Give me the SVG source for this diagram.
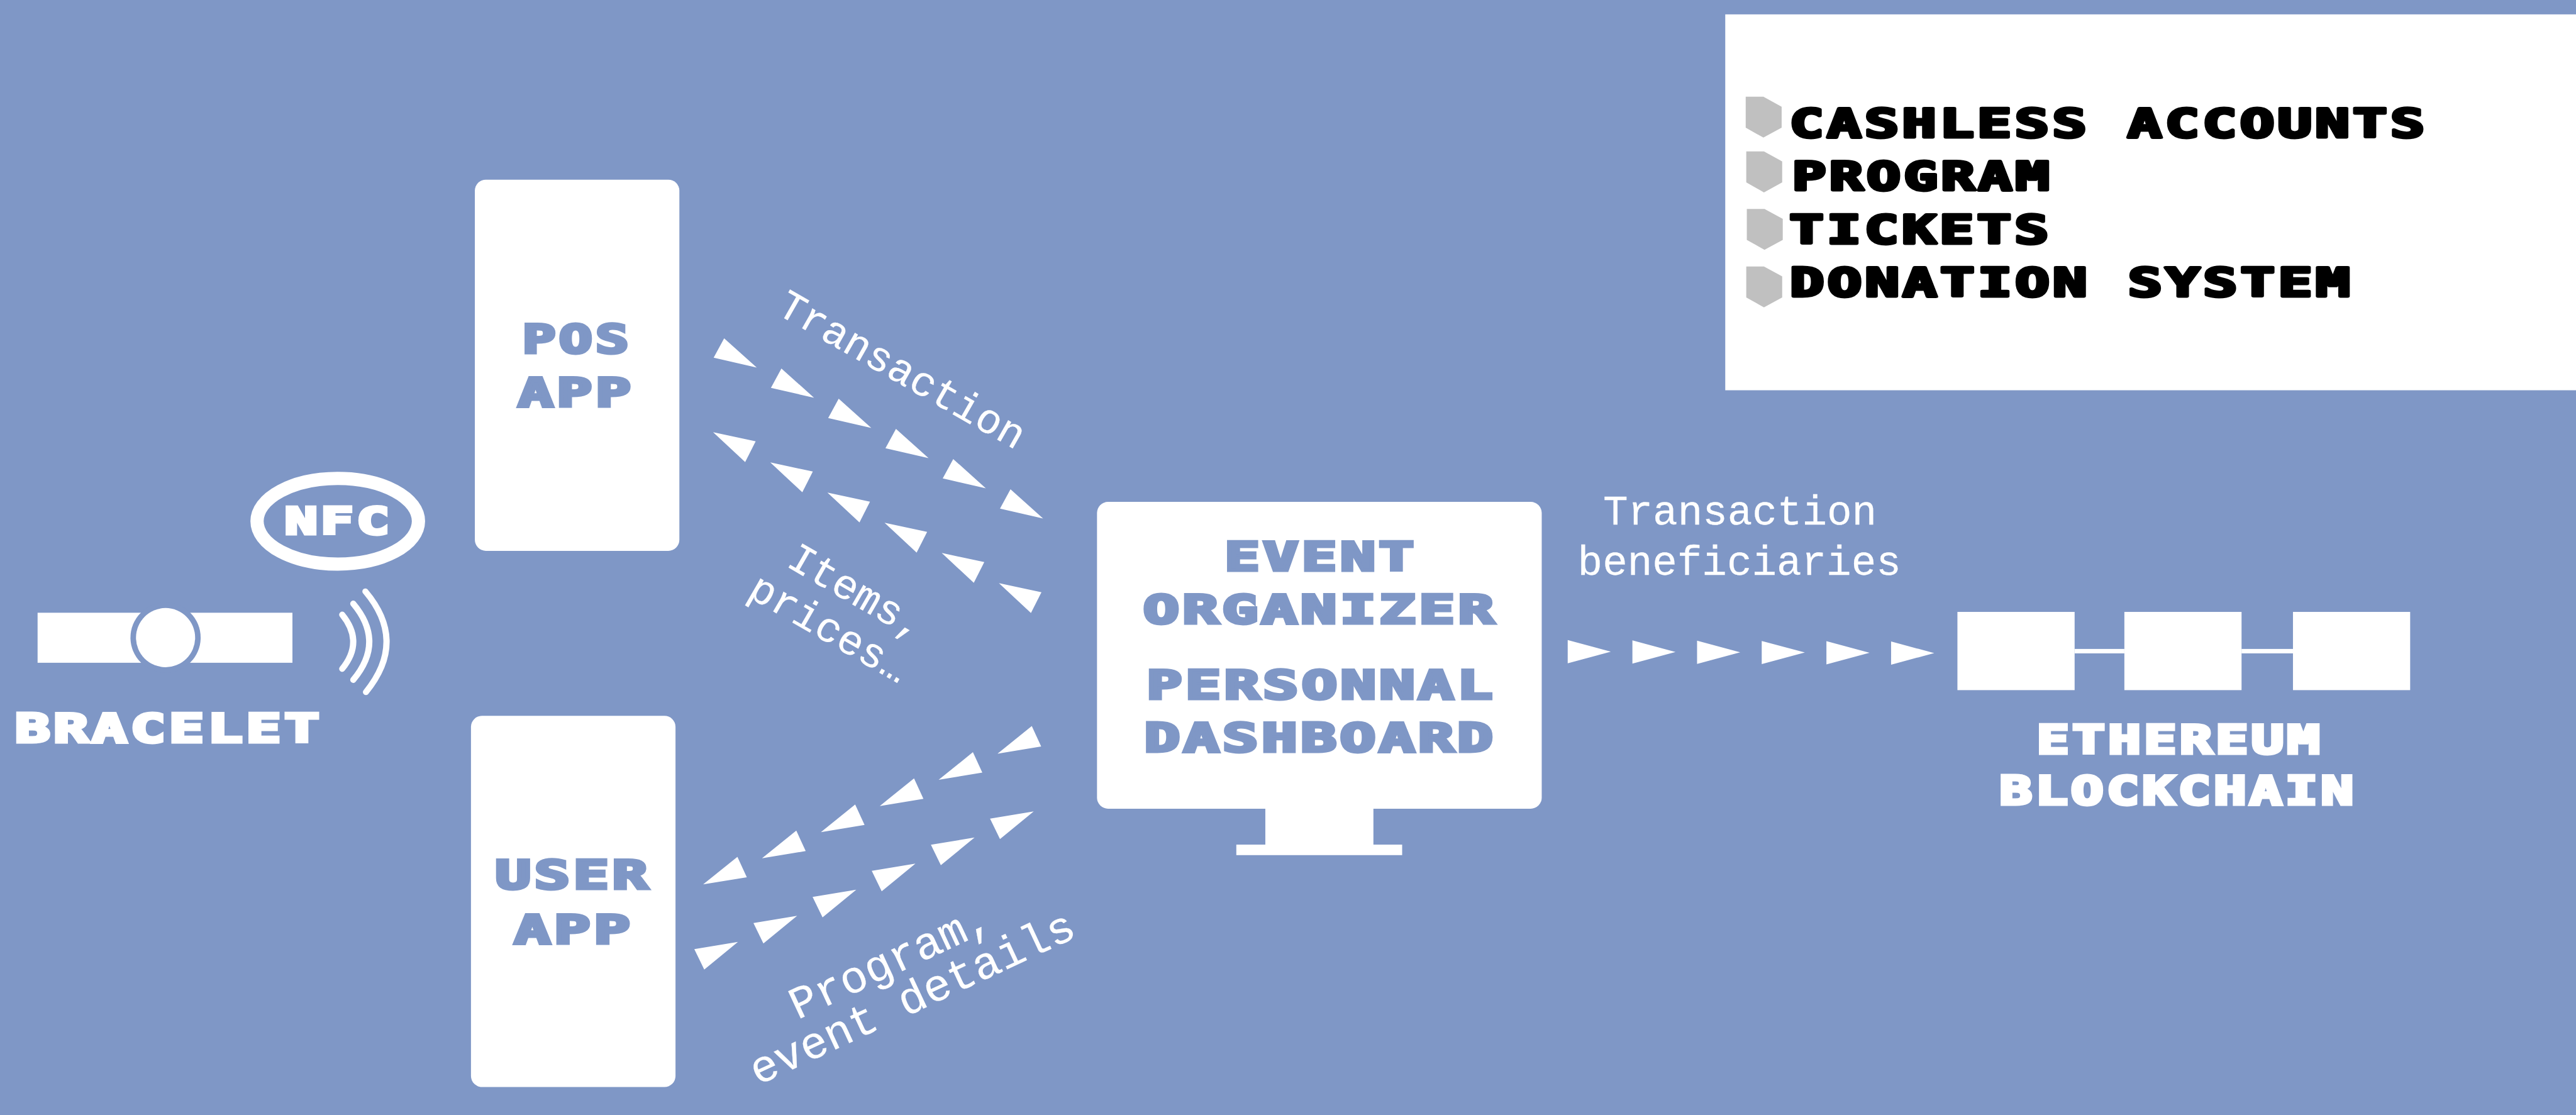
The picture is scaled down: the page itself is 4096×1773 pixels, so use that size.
<svg xmlns="http://www.w3.org/2000/svg" width="4096" height="1773" viewBox="0 0 4096 1773">
<style>
.w{fill:#fff}
.b{fill:#7f97c6}
.h{font-family:"DejaVu Sans Mono","Liberation Mono",monospace;font-weight:700;font-size:71px;letter-spacing:4px;stroke-width:5.500px;stroke-linejoin:miter}
.hb{fill:#7f97c6;stroke:#7f97c6}
.hw{fill:#fff;stroke:#fff}
.m{font-family:"DejaVu Sans Mono","Liberation Mono",monospace;font-weight:700;font-size:71px;letter-spacing:4px;fill:#000;stroke:#000;stroke-width:5.500px;stroke-linejoin:round}
.l{font-family:"Liberation Mono",monospace;font-size:76px;fill:#fff;stroke:#fff;stroke-width:.3px}
.l2{font-size:82px}
.l3{font-size:75px}
.bul{fill:#c0c0c0}
.wave{fill:none;stroke:#fff;stroke-width:11px;stroke-linecap:round}
</style>
<defs>
<polygon id="tr-a" points="0,0 -19,35 59,53" class="w"/>
<polygon id="tr-b" points="0,0 77,16.500 58,54" class="w"/>
<polygon id="tr-c" points="0,0 17,37 -62,50" class="w"/>
<polygon id="tr-d" points="0,0 79,-13 18,37" class="w"/>
<polygon id="tr-e" points="0,0 78,21 0,42" class="w"/>
<polygon id="bullet" points="0,0 32,0 65,18 65,56 32,74 0,56" class="bul"/>
</defs>
<rect width="4096" height="1773" class="b"/>
<g transform="scale(0.87897)">
<g id="connectors">
<g id="pos-to-dashboard">
<use href="#tr-a" x="1310" y="612"/><use href="#tr-a" x="1413.600" y="666.600"/><use href="#tr-a" x="1517.200" y="721.200"/><use href="#tr-a" x="1620.800" y="775.800"/><use href="#tr-a" x="1724.400" y="830.400"/><use href="#tr-a" x="1828" y="885"/>
</g>
<g id="dashboard-to-pos">
<use href="#tr-b" x="1290" y="782"/><use href="#tr-b" x="1393.400" y="836.600"/><use href="#tr-b" x="1496.800" y="891.200"/><use href="#tr-b" x="1600.200" y="945.800"/><use href="#tr-b" x="1703.600" y="1000.400"/><use href="#tr-b" x="1807" y="1055"/>
</g>
<g id="dashboard-to-user">
<use href="#tr-c" x="1334" y="1550"/><use href="#tr-c" x="1440.500" y="1502.700"/><use href="#tr-c" x="1547" y="1455.400"/><use href="#tr-c" x="1653.500" y="1408.100"/><use href="#tr-c" x="1760" y="1360.800"/><use href="#tr-c" x="1866.500" y="1313.500"/>
</g>
<g id="user-to-dashboard">
<use href="#tr-d" x="1256" y="1717"/><use href="#tr-d" x="1363" y="1669.800"/><use href="#tr-d" x="1470" y="1622.600"/><use href="#tr-d" x="1577" y="1575.400"/><use href="#tr-d" x="1684" y="1528.200"/><use href="#tr-d" x="1791" y="1481"/>
</g>
<g id="dashboard-to-chain">
<use href="#tr-e" x="2836" y="1158"/><use href="#tr-e" x="2953" y="1158.500"/><use href="#tr-e" x="3070" y="1159"/><use href="#tr-e" x="3187" y="1159.500"/><use href="#tr-e" x="3304" y="1160"/><use href="#tr-e" x="3421" y="1160.500"/>
</g>
<text class="l" transform="translate(1402 566) rotate(29.700)">Transaction</text>
<text class="l" transform="translate(1420 1023) rotate(30)">Items,</text>
<text class="l" transform="translate(1350 1078) rotate(30)">prices…</text>
<text class="l l2" transform="translate(1443 1845) rotate(-25)">Program,</text>
<text class="l l2" transform="translate(1371 1964) rotate(-25)">event details</text>
<text class="l l3" x="2900" y="949">Transaction</text>
<text class="l l3" x="2854" y="1040">beneficiaries</text>
</g>
<g id="nfc">
<ellipse cx="611" cy="943" rx="146" ry="77.500" fill="none" stroke="#fff" stroke-width="24"/>
<text class="h hw" x="515" y="966" textLength="195" lengthAdjust="spacingAndGlyphs" style="font-size:66px">NFC</text>
</g>
<g id="bracelet">
<rect x="68" y="1108.500" width="461" height="90.500" class="w"/>
<circle cx="299.500" cy="1153.500" r="63.500" class="b"/>
<circle cx="299.500" cy="1153.500" r="53.500" class="w"/>
<path class="wave" d="M619 1112Q659 1161 619 1210"/>
<path class="wave" d="M639 1092Q697 1161 639 1230"/>
<path class="wave" d="M661 1070Q737 1160 662 1252"/>
<text class="h hw" x="27" y="1343" textLength="557" lengthAdjust="spacingAndGlyphs">BRACELET</text>
</g>
<g id="pos-app">
<rect x="859" y="325" width="370" height="671.500" rx="20" class="w"/>
<text class="h hb" x="945" y="638" textLength="198" lengthAdjust="spacingAndGlyphs">POS</text>
<text class="h hb" x="937" y="735" textLength="210" lengthAdjust="spacingAndGlyphs">APP</text>
</g>
<g id="user-app">
<rect x="852" y="1295" width="370" height="671.500" rx="20" class="w"/>
<text class="h hb" x="896" y="1607" textLength="282" lengthAdjust="spacingAndGlyphs">USER</text>
<text class="h hb" x="930" y="1707" textLength="216" lengthAdjust="spacingAndGlyphs">APP</text>
</g>
<g id="dashboard">
<rect x="1984.500" y="908" width="804.500" height="555" rx="20" class="w"/>
<rect x="2289" y="1450" width="195.500" height="90" class="w"/>
<rect x="2236.500" y="1528" width="300" height="19" class="w"/>
<text class="h hb" x="2215" y="1032" textLength="349" lengthAdjust="spacingAndGlyphs">EVENT</text>
<text class="h hb" x="2068" y="1127" textLength="641" lengthAdjust="spacingAndGlyphs">ORGANIZER</text>
<text class="h hb" x="2074" y="1264" textLength="632" lengthAdjust="spacingAndGlyphs">PERSONNAL</text>
<text class="h hb" x="2070" y="1359" textLength="637" lengthAdjust="spacingAndGlyphs">DASHBOARD</text>
</g>
<g id="blockchain">
<rect x="3541" y="1107" width="212" height="141.500" class="w"/>
<rect x="3843" y="1107" width="212" height="141.500" class="w"/>
<rect x="4148" y="1107" width="212" height="141.500" class="w"/>
<rect x="3753" y="1174" width="90" height="8" class="w"/>
<rect x="4055" y="1174" width="93" height="8" class="w"/>
<text class="h hw" x="3684" y="1363" textLength="518" lengthAdjust="spacingAndGlyphs">ETHEREUM</text>
<text class="h hw" x="3617" y="1455" textLength="646" lengthAdjust="spacingAndGlyphs">BLOCKCHAIN</text>
</g>
<g id="legend">
<rect x="3121" y="26" width="1539" height="680" class="w"/>
<use href="#bullet" x="3158" y="175"/>
<use href="#bullet" x="3159" y="274"/>
<use href="#bullet" x="3160" y="378"/>
<use href="#bullet" x="3159" y="482"/>
<text class="m" x="3237" y="248" textLength="1155" lengthAdjust="spacingAndGlyphs">CASHLESS ACCOUNTS</text>
<text class="m" x="3242" y="344" textLength="471" lengthAdjust="spacingAndGlyphs">PROGRAM</text>
<text class="m" x="3237" y="440" textLength="475" lengthAdjust="spacingAndGlyphs">TICKETS</text>
<text class="m" x="3238" y="536" textLength="1019" lengthAdjust="spacingAndGlyphs">DONATION SYSTEM</text>
</g>
</g>
</svg>
